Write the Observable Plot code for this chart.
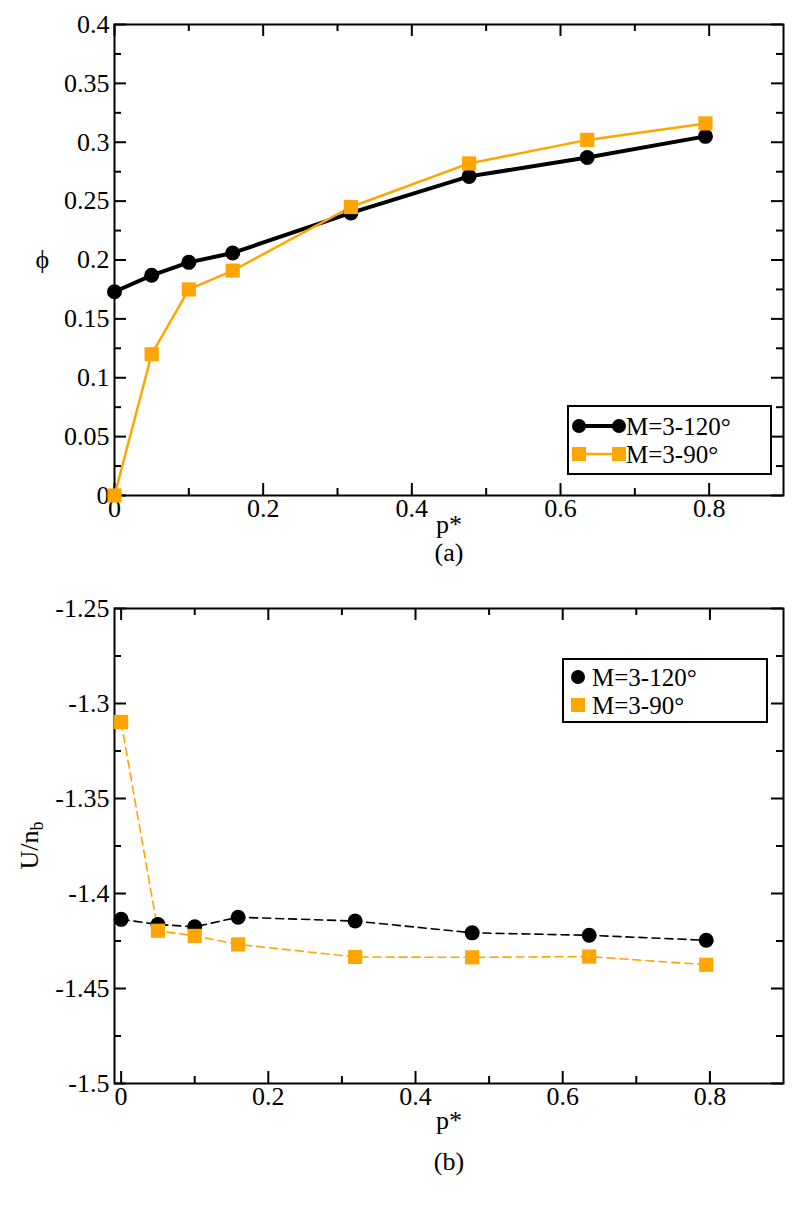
<!DOCTYPE html>
<html>
<head>
<meta charset="utf-8">
<script src="https://cdn.jsdelivr.net/npm/d3@7"></script>
<script src="https://cdn.jsdelivr.net/npm/@observablehq/plot@0.6"></script>
<style>
  html, body { margin: 0; padding: 0; background: #fff; }
  #chart svg { display: block; overflow: visible; }
  #chart svg text { font-family: "Liberation Serif", "Times New Roman", serif; }
</style>
</head>
<body>
<div id="chart"></div>
<script>
// ---- data ----
const pStar = [0, 0.05, 0.1, 0.159, 0.318, 0.477, 0.636, 0.795];
const phi120 = [0.173, 0.187, 0.198, 0.206, 0.240, 0.271, 0.287, 0.305];
const phi90 = [0.0, 0.120, 0.175, 0.191, 0.245, 0.282, 0.302, 0.316];
const u120 = [-1.4136, -1.4163, -1.4175, -1.4125, -1.4145, -1.4207, -1.4220, -1.4246];
const u90 = [-1.3097, -1.4196, -1.4223, -1.4268, -1.4334, -1.4336, -1.4332, -1.4375];
const seriesNames = ["M=3-120°", "M=3-90°"];
const xMajor = [0, 0.2, 0.4, 0.6, 0.8];
const xMinor = [0.1, 0.3, 0.5, 0.7];
const yMajorA = [0, 0.05, 0.1, 0.15, 0.2, 0.25, 0.3, 0.35, 0.4];
const yMinorA = [0.025, 0.075, 0.125, 0.175, 0.225, 0.275, 0.325, 0.375];
const yMajorB = [-1.5, -1.45, -1.4, -1.35, -1.3, -1.25];
const yMinorB = [-1.475, -1.425, -1.375, -1.325, -1.275];

const ORANGE = "#ffa500";
const FONT = '"Liberation Serif", "Times New Roman", serif';
const FS = 26;   // tick / axis label size
const LFS = 25;  // legend text size

const rowsA = pStar.map((p, i) => ({p, v120: phi120[i], v90: phi90[i]}));
const rowsB = pStar.map((p, i) => ({p, v120: u120[i], v90: u90[i]}));

function frameTicks(fw, fh, xMaj, xMin, yMaj, yMin) {
  const big = 12, small = 7, sw = 2;
  return [
    Plot.tickX(xMaj, {x: d => d, insetTop: fh - big, strokeWidth: sw}),
    Plot.tickX(xMin, {x: d => d, insetTop: fh - small, strokeWidth: sw}),
    Plot.tickX(xMaj, {x: d => d, insetBottom: fh - big, strokeWidth: sw}),
    Plot.tickX(xMin, {x: d => d, insetBottom: fh - small, strokeWidth: sw}),
    Plot.tickY(yMaj, {y: d => d, insetRight: fw - big, strokeWidth: sw}),
    Plot.tickY(yMin, {y: d => d, insetRight: fw - small, strokeWidth: sw}),
    Plot.tickY(yMaj, {y: d => d, insetLeft: fw - big, strokeWidth: sw}),
    Plot.tickY(yMin, {y: d => d, insetLeft: fw - small, strokeWidth: sw})
  ];
}

function legendMark(opts) {
  return (index, scales, values, dims) => {
    const g = d3.create("svg:g").attr("font-family", FONT).attr("font-size", opts.fs)
      .attr("text-anchor", "start");
    const right = dims.width - dims.marginRight - opts.right;
    const left = right - opts.w;
    const top = opts.fromTop != null ? dims.marginTop + opts.fromTop
                                     : dims.height - dims.marginBottom - opts.bottom - opts.h;
    g.append("rect").attr("x", left).attr("y", top).attr("width", opts.w).attr("height", opts.h)
      .attr("fill", "white").attr("stroke", "black").attr("stroke-width", 2);
    opts.items.forEach((it, i) => {
      const cy = top + opts.row0 + i * opts.rowH;
      if (opts.withLine) {
        const x1 = left + 11, x2 = left + 51;
        g.append("line").attr("x1", x1).attr("x2", x2).attr("y1", cy).attr("y2", cy)
          .attr("stroke", it.color).attr("stroke-width", it.lw);
        [x1, x2].forEach(x => drawSym(g, it.sym, x, cy, it.color));
      } else {
        drawSym(g, it.sym, left + 15, cy, it.color);
      }
      g.append("text").attr("x", left + opts.textX).attr("y", cy).attr("dy", "0.35em")
        .attr("text-anchor", "start").attr("fill", "black").text(it.label);
    });
    return g.node();
  };
}
function drawSym(g, sym, x, y, color) {
  if (sym === "circle") g.append("circle").attr("cx", x).attr("cy", y).attr("r", 7).attr("fill", color);
  else g.append("rect").attr("x", x - 7).attr("y", y - 7).attr("width", 14).attr("height", 14).attr("fill", color);
}

const axisOpts = {tickSize: 0, tickFormat: d => String(d), label: null, fontSize: FS, fontFamily: FONT, fill: "black"};
const txt = (s, o) => Plot.text([s], {text: d => d, fontSize: FS, fontFamily: FONT, fill: "black", ...o});

// ---- panel (a) ----
const W = 800;
const mA = {top: 24, right: 17, bottom: 80, left: 114};
const hA = 575;
const fwA = W - mA.left - mA.right, fhA = hA - mA.top - mA.bottom;

const plotA = Plot.plot({
  width: W, height: hA,
  marginTop: mA.top, marginRight: mA.right, marginBottom: mA.bottom, marginLeft: mA.left,
  style: {fontFamily: FONT, fontSize: FS + "px", background: "white", overflow: "visible", color: "black"},
  x: {domain: [0, 0.9]},
  y: {domain: [0, 0.4]},
  marks: [
    Plot.axisX({ticks: xMajor, tickPadding: 3, ...axisOpts}),
    Plot.axisY({ticks: yMajorA, tickPadding: 5, ...axisOpts}),
    ...frameTicks(fwA, fhA, xMajor, xMinor, yMajorA, yMinorA),
    Plot.frame({strokeWidth: 2, stroke: "black"}),
    Plot.line(rowsA, {x: "p", y: "v120", stroke: "black", strokeWidth: 4}),
    Plot.line(rowsA, {x: "p", y: "v90", stroke: ORANGE, strokeWidth: 2.5}),
    Plot.dot(rowsA, {x: "p", y: "v120", r: 7.5, fill: "black", symbol: "circle"}),
    Plot.dot(rowsA, {x: "p", y: "v90", r: 8, fill: ORANGE, symbol: "square"}),
    txt("p*", {frameAnchor: "bottom", dy: 37}),
    txt("(a)", {frameAnchor: "bottom", dy: 65}),
    txt("ϕ", {frameAnchor: "left", dx: -79}),
    legendMark({right: 12, bottom: 21, w: 203, h: 68, row0: 20, rowH: 28, textX: 58, withLine: true, fs: LFS,
      items: [
        {label: seriesNames[0], color: "black", sym: "circle", lw: 4},
        {label: seriesNames[1], color: ORANGE, sym: "square", lw: 2.5}
      ]})
  ]
});

// ---- panel (b) ----
const mB = {top: 33, right: 17, bottom: 126, left: 114};
const hB = 634;
const fwB = W - mB.left - mB.right, fhB = hB - mB.top - mB.bottom;

const plotB = Plot.plot({
  width: W, height: hB,
  marginTop: mB.top, marginRight: mB.right, marginBottom: mB.bottom, marginLeft: mB.left,
  style: {fontFamily: FONT, fontSize: FS + "px", background: "white", overflow: "visible", color: "black"},
  x: {domain: [-0.009, 0.9]},
  y: {domain: [-1.5, -1.25]},
  marks: [
    Plot.axisX({ticks: xMajor, tickPadding: 3, ...axisOpts}),
    Plot.axisY({ticks: yMajorB, tickPadding: 5, ...axisOpts}),
    ...frameTicks(fwB, fhB, xMajor, xMinor, yMajorB, yMinorB),
    Plot.frame({strokeWidth: 2, stroke: "black"}),
    Plot.line(rowsB, {x: "p", y: "v120", stroke: "black", strokeWidth: 1.6, strokeDasharray: "8,5"}),
    Plot.line(rowsB, {x: "p", y: "v90", stroke: ORANGE, strokeWidth: 1.6, strokeDasharray: "8,5"}),
    Plot.dot(rowsB, {x: "p", y: "v120", r: 7.5, fill: "black", symbol: "circle"}),
    Plot.dot(rowsB, {x: "p", y: "v90", r: 8, fill: ORANGE, symbol: "square"}),
    txt("p*", {frameAnchor: "bottom", dy: 45}),
    txt("(b)", {frameAnchor: "bottom", dy: 86}),
    legendMark({right: 16, fromTop: 51, w: 204, h: 63, row0: 18, rowH: 28, textX: 29, withLine: false, fs: LFS,
      items: [
        {label: seriesNames[0], color: "black", sym: "circle"},
        {label: seriesNames[1], color: ORANGE, sym: "square"}
      ]})
  ]
});

// U/n_b rotated label
const svgB = d3.select(plotB);
const lab = svgB.append("text")
  .attr("transform", `translate(38, ${mB.top + fhB / 2}) rotate(-90)`)
  .attr("text-anchor", "middle").attr("font-family", FONT).attr("font-size", FS).attr("fill", "black");
lab.append("tspan").text("U/n");
lab.append("tspan").attr("font-size", 18).attr("dy", "0.3em").text("b");

document.getElementById("chart").append(plotA, plotB);
</script>
</body>
</html>
